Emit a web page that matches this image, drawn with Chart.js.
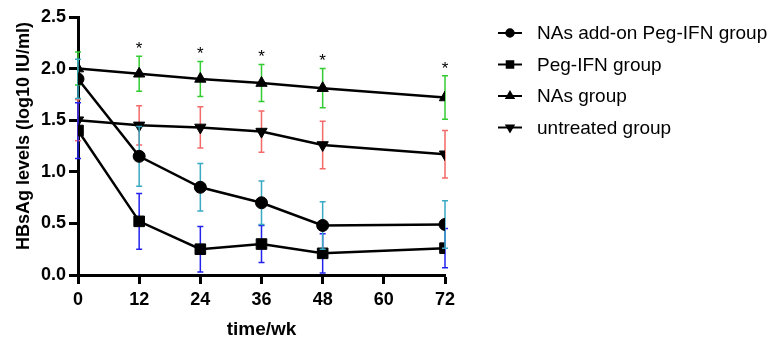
<!DOCTYPE html>
<html>
<head>
<meta charset="utf-8">
<script src="https://cdn.jsdelivr.net/npm/chart.js@4.4.0/dist/chart.umd.min.js"></script>
<style>
  html, body { margin: 0; padding: 0; background: #fff; }
  canvas { display: block; }
</style>
</head>
<body>
<canvas id="chart" width="771" height="340"></canvas>
<script>
'use strict';

// weeks of follow-up
const weeks = [0, 12, 24, 36, 48, 72];
const xTicks = [0, 12, 24, 36, 48, 60, 72];

// mean +/- sd, log10 IU/ml
const addonMean = [1.90, 1.15, 0.85, 0.70, 0.48, 0.49];
const addonSd = [0.19, 0.29, 0.23, 0.21, 0.23, 0.23];
const pegMean = [1.40, 0.52, 0.25, 0.30, 0.21, 0.26];
const pegSd = [0.27, 0.27, 0.22, 0.18, 0.19, 0.19];
const nasMean = [2.00, 1.95, 1.90, 1.86, 1.81, 1.72];
const nasSd = [0.16, 0.17, 0.17, 0.18, 0.19, 0.21];
const untreatedMean = [1.50, 1.45, 1.43, 1.39, 1.26, 1.17];
const untreatedSd = [0.20, 0.19, 0.20, 0.20, 0.23, 0.23];

// weeks marked with * (above NAs group)
const starWeeks = [12, 24, 36, 48, 72];

const labels = ['NAs add-on Peg-IFN group', 'Peg-IFN group', 'NAs group', 'untreated group'];
const xTitle = 'time/wk';
const yTitle = 'HBsAg levels (log10 IU/ml)';

const FONT = "'Liberation Sans', Arial, sans-serif";

function toPoints(ys) {
  return weeks.map((w, i) => ({ x: w, y: ys[i] }));
}

const series = [
  { label: labels[0], mean: addonMean, sd: addonSd, style: 'circle', radius: 6, rot: 0, bar: '#3aa9c4', order: 0 },
  { label: labels[1], mean: pegMean, sd: pegSd, style: 'rect', radius: 7.5, rot: 0, bar: '#2222ee', order: 1 },
  { label: labels[2], mean: nasMean, sd: nasSd, style: 'triangle', radius: 6.5, rot: 0, bar: '#33cc33', order: 2 },
  { label: labels[3], mean: untreatedMean, sd: untreatedSd, style: 'triangle', radius: 6.5, rot: 180, bar: '#f46a6a', order: 3 }
];

// error bars drawn just before each dataset so its own line/markers cover them
const errorBars = {
  id: 'errorBars',
  beforeDatasetDraw(chart, args) {
    const s = series[args.index];
    const xs = chart.scales.x, ys = chart.scales.y;
    const ctx = chart.ctx;
    ctx.save();
    ctx.strokeStyle = s.bar;
    ctx.lineWidth = 1.5;
    weeks.forEach((w, i) => {
      const px = xs.getPixelForValue(w);
      const top = ys.getPixelForValue(s.mean[i] + s.sd[i]);
      const bot = ys.getPixelForValue(Math.max(0, s.mean[i] - s.sd[i]));
      ctx.beginPath();
      ctx.moveTo(px, top); ctx.lineTo(px, bot);
      ctx.moveTo(px - 3, top); ctx.lineTo(px + 3, top);
      ctx.moveTo(px - 3, bot); ctx.lineTo(px + 3, bot);
      ctx.stroke();
    });
    ctx.restore();
  },
  afterDatasetsDraw(chart) {
    const xs = chart.scales.x, ys = chart.scales.y;
    const ctx = chart.ctx;
    ctx.save();
    ctx.fillStyle = '#000';
    ctx.font = '17px ' + FONT;
    ctx.textAlign = 'center';
    ctx.textBaseline = 'middle';
    starWeeks.forEach((w) => {
      const i = weeks.indexOf(w);
      const px = xs.getPixelForValue(w);
      const py = ys.getPixelForValue(nasMean[i] + nasSd[i]) - 7;
      ctx.fillText('*', px, py);
    });
    ctx.restore();
  }
};

// axis titles and legend (short line with marker, then label)
const sideLegend = {
  id: 'sideLegend',
  afterDraw(chart) {
    const ctx = chart.ctx;
    const area = chart.chartArea;
    ctx.save();
    ctx.fillStyle = '#000';
    ctx.font = 'bold 19px ' + FONT;
    ctx.textAlign = 'center';
    ctx.textBaseline = 'middle';
    ctx.fillText(xTitle, (area.left + area.right) / 2, 330);
    ctx.save();
    ctx.translate(24, 136);
    ctx.rotate(-Math.PI / 2);
    ctx.font = 'bold 18px ' + FONT;
    ctx.fillText(yTitle, 0, 0);
    ctx.restore();

    series.forEach((s, i) => {
      const y = 33 + i * 31.5;
      ctx.strokeStyle = '#000';
      ctx.lineWidth = 2;
      ctx.beginPath();
      ctx.moveTo(498, y); ctx.lineTo(522, y);
      ctx.stroke();
      ctx.fillStyle = '#000';
      Chart.helpers.drawPoint(ctx, {
        pointStyle: s.style, rotation: s.rot, radius: s.radius * 0.62, borderWidth: 1
      }, 510, y);
      ctx.fillStyle = '#000';
      ctx.font = '19px ' + FONT;
      ctx.textAlign = 'left';
      ctx.textBaseline = 'middle';
      ctx.fillText(s.label, 537, y + 1);
    });
    ctx.restore();
  }
};

new Chart(document.getElementById('chart'), {
  type: 'line',
  data: {
    datasets: series.map((s) => ({
      label: s.label,
      data: toPoints(s.mean),
      borderColor: '#000',
      borderWidth: 2.5,
      backgroundColor: '#000',
      pointStyle: s.style,
      pointRotation: s.rot,
      pointRadius: s.radius,
      pointBorderWidth: 1,
      pointBackgroundColor: '#000',
      pointBorderColor: '#000',
      order: s.order,
      tension: 0
    }))
  },
  options: {
    responsive: false,
    animation: false,
    layout: { padding: { top: 17, right: 326, left: 0, bottom: 0 } },
    plugins: { legend: { display: false }, tooltip: { enabled: false } },
    scales: {
      x: {
        type: 'linear',
        min: 0,
        max: 72,
        afterBuildTicks(scale) { scale.ticks = xTicks.map((v) => ({ value: v })); },
        afterFit(scale) { scale.height = 65; },
        border: { display: true, width: 3, color: '#000' },
        grid: { drawOnChartArea: false, drawTicks: true, tickLength: 9, tickWidth: 3, tickColor: '#000' },
        ticks: { color: '#000', padding: 5, font: { family: FONT, size: 18, weight: 'bold' } }
      },
      y: {
        min: 0,
        max: 2.5,
        afterFit(scale) { scale.width = 78; },
        border: { display: true, width: 3, color: '#000' },
        grid: { drawOnChartArea: false, drawTicks: true, tickLength: 9, tickWidth: 3, tickColor: '#000' },
        ticks: {
          stepSize: 0.5, color: '#000', padding: 3,
          font: { family: FONT, size: 18, weight: 'bold' },
          callback: (v) => v.toFixed(1)
        }
      }
    }
  },
  plugins: [errorBars, sideLegend]
});
</script>
</body>
</html>
